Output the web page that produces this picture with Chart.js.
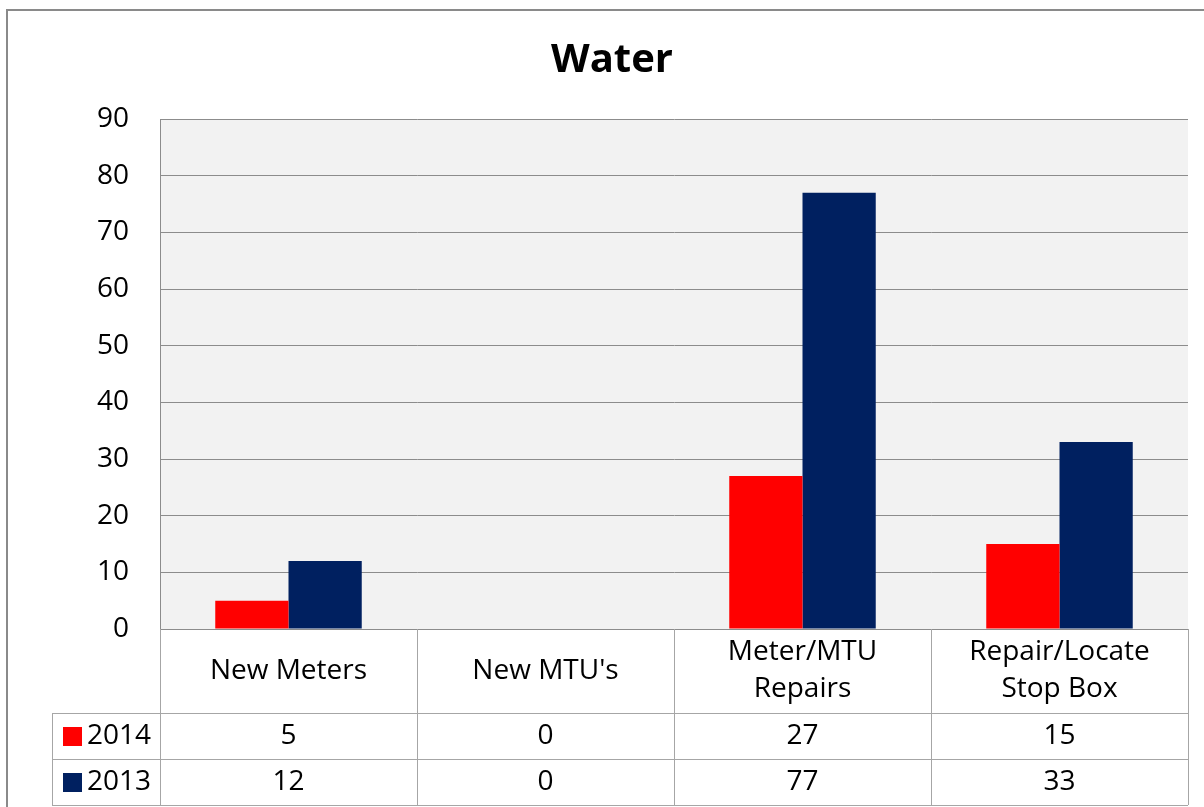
<!DOCTYPE html>
<html>
<head>
  <title>Water</title>
  <script src="https://cdn.jsdelivr.net/npm/chart.js"></script>
  <style>
    html, body { margin: 0; padding: 0; background: #fff; }
    #wrap { width: 1204px; height: 807px; }
  </style>
</head>
<body>
  <div id="wrap"><canvas id="waterChart"></canvas></div>

  <script>
    const categories = [['New Meters'], ["New MTU's"], ['Meter/MTU', 'Repairs'], ['Repair/Locate', 'Stop Box']];
    const series2014 = [5, 0, 27, 15];
    const series2013 = [12, 0, 77, 33];
    const yTicks = [0, 10, 20, 30, 40, 50, 60, 70, 80, 90];

    const FONT = '"Open Sans", "Noto Sans", sans-serif';
    const gridGray = '#8c8c8c';
    const tableGray = '#a6a6a6';

    // grey plot area + outer frame
    const plotBg = {
      id: 'plotBg',
      beforeDraw(chart) {
        const { ctx, chartArea: a } = chart;
        ctx.save();
        ctx.fillStyle = '#f2f2f2';
        ctx.fillRect(a.left, a.top, a.right - a.left, a.bottom - a.top);
        ctx.strokeStyle = '#8a8a8a';
        ctx.lineWidth = 2;
        ctx.strokeRect(7, 10, 1210, 820);
        ctx.restore();
      }
    };

    // Excel style data table under the axis
    const dataTable = {
      id: 'dataTable',
      afterDraw(chart) {
        const { ctx, chartArea: a } = chart;
        const xs = chart.scales.x;
        const n = categories.length;
        const colW = (xs.right - xs.left) / n;
        const catTop = a.bottom, catBot = a.bottom + 84;
        const rows = [
          { label: '2014', values: series2014, color: chart.data.datasets[0].backgroundColor },
          { label: '2013', values: series2013, color: chart.data.datasets[1].backgroundColor }
        ];
        const rowH = 46;
        const headLeft = 52;
        const tableBot = catBot + rowH * rows.length;

        ctx.save();
        ctx.strokeStyle = tableGray;
        ctx.lineWidth = 1;
        ctx.beginPath();
        for (let i = 0; i <= n; i++) {
          const x = Math.round(xs.left + i * colW) + 0.5;
          ctx.moveTo(x, catTop);
          ctx.lineTo(x, tableBot);
        }
        for (let r = 0; r <= rows.length; r++) {
          const y = catBot + r * rowH + 0.5;
          ctx.moveTo(headLeft, y);
          ctx.lineTo(xs.right, y);
        }
        ctx.moveTo(headLeft + 0.5, catBot);
        ctx.lineTo(headLeft + 0.5, tableBot);
        ctx.stroke();

        ctx.fillStyle = '#000';
        ctx.font = '28px ' + FONT;
        ctx.textAlign = 'center';
        ctx.textBaseline = 'middle';
        categories.forEach((lines, i) => {
          const cx = xs.getPixelForValue(i);
          const lh = 37;
          const y0 = (catTop + catBot) / 2 - (lines.length - 1) * lh / 2;
          lines.forEach((t, k) => ctx.fillText(t, cx, y0 + k * lh));
        });

        rows.forEach((row, r) => {
          const cy = catBot + r * rowH + rowH / 2;
          row.values.forEach((v, i) => ctx.fillText(String(v), xs.getPixelForValue(i), cy));
          ctx.fillStyle = row.color;
          ctx.fillRect(63, cy - 9, 19, 19);
          ctx.fillStyle = '#000';
          ctx.textAlign = 'left';
          ctx.fillText(row.label, 87, cy);
          ctx.textAlign = 'center';
        });
        ctx.restore();
      }
    };

    const ctx = document.getElementById('waterChart').getContext('2d');
    const waterChart = new Chart(ctx, {
      type: 'bar',
      data: {
        labels: categories,
        datasets: [
          { label: '2014', data: series2014, backgroundColor: '#ff0000' },
          { label: '2013', data: series2013, backgroundColor: '#002060' }
        ]
      },
      options: {
        responsive: true,
        maintainAspectRatio: false,
        animation: false,
        layout: { padding: { left: 36, right: 16, top: 0, bottom: 0 } },
        datasets: { bar: { categoryPercentage: 0.57, barPercentage: 1.0 } },
        plugins: {
          legend: { display: false },
          tooltip: { enabled: false },
          title: {
            display: true,
            text: 'Water',
            color: '#000',
            font: { family: FONT, size: 40, weight: 'bold', lineHeight: 1.2 },
            padding: { top: 37, bottom: 34 }
          }
        },
        scales: {
          x: {
            ticks: { display: false },
            grid: { display: false, drawTicks: false },
            border: { display: true, color: gridGray },
            afterFit(scale) { scale.height = 178; }
          },
          y: {
            min: 0,
            max: 90,
            afterBuildTicks(scale) { scale.ticks = yTicks.map(v => ({ value: v })); },
            ticks: { color: '#000', padding: 31, font: { family: FONT, size: 28 } },
            grid: { color: gridGray, drawTicks: false, tickLength: 0 },
            border: { display: true, color: gridGray },
            afterFit(scale) { scale.width = 124; }
          }
        }
      },
      plugins: [plotBg, dataTable]
    });
  </script>
</body>
</html>
